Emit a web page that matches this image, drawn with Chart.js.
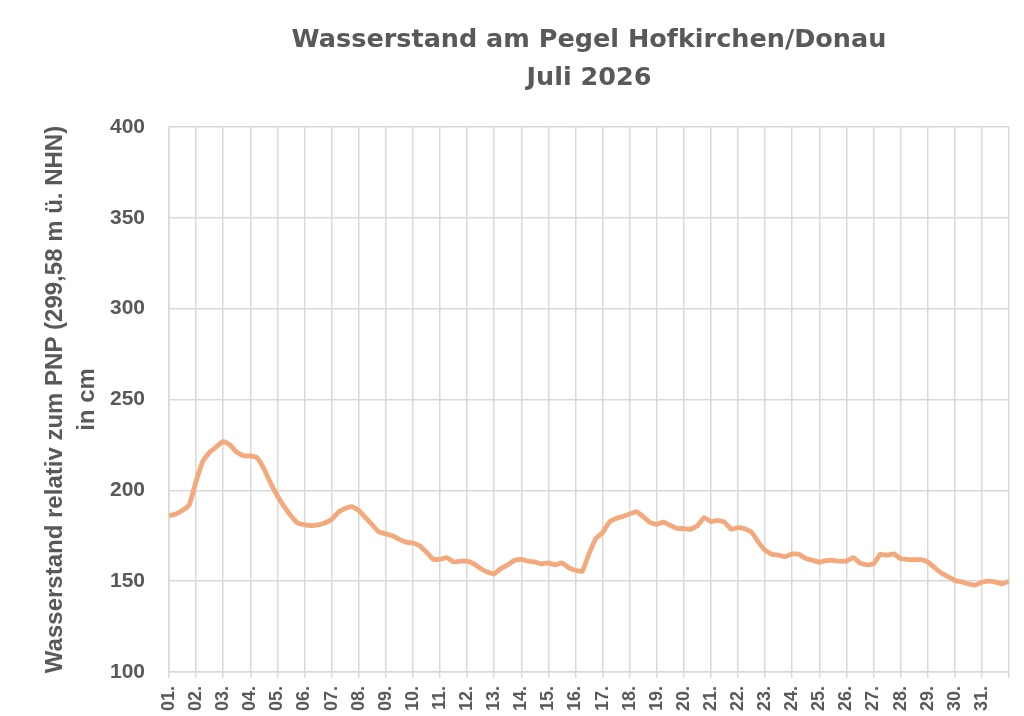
<!DOCTYPE html>
<html>
<head>
<meta charset="utf-8">
<script src="https://cdn.jsdelivr.net/npm/chart.js@4/dist/chart.umd.min.js"></script>
<style>
  html, body { margin: 0; padding: 0; background: #ffffff; }
  #wrap { width: 1024px; height: 716px; position: relative; }
</style>
</head>
<body>
<div id="wrap"><canvas id="chart"></canvas></div>
<script>
// Wasserstand Hofkirchen, Juli 2026 - one reading every 6 hours (00, 06, 12, 18 Uhr)
const titleLines = ['Wasserstand am Pegel Hofkirchen/Donau', 'Juli 2026'];
const yTitleLines = ['Wasserstand relativ zum PNP (299,58 m ü. NHN)', 'in cm'];
const firstDay = 1;
const lastDay = 32;
const readingsPerDay = 4;
const yTicks = [100, 150, 200, 250, 300, 350, 400];

const level = [
  186, 187, 189, 192,          // 01.
  205, 216, 221, 224,          // 02.
  227, 225, 221, 219,          // 03.
  219, 218, 212, 204,          // 04.
  197, 191, 186, 182,          // 05.
  181, 180.6, 181, 182,        // 06.
  184, 188, 190, 191,          // 07.
  189, 185, 181, 177,          // 08.
  176, 175, 173, 171.5,        // 09.
  171, 169.5, 166, 162,        // 10.
  162, 163, 160.6, 161,        // 11.
  161, 159.5, 157, 155,        // 12.
  154, 157, 159, 161.5,        // 13.
  162, 161, 160.6, 159.5,      // 14.
  160, 159, 160, 157.5,        // 15.
  156, 155.4, 165, 173.5,      // 16.
  176.7, 182.5, 184.5, 185.6,  // 17.
  187, 188.3, 185.5, 182.3,    // 18.
  181.3, 182.5, 180.7, 179,    // 19.
  179, 178.5, 180.5, 185,      // 20.
  182.8, 183.5, 182.5, 178.5,  // 21.
  179.5, 178.8, 177, 171.5,    // 22.
  167, 164.8, 164.3, 163.5,    // 23.
  165, 164.8, 162.5, 161.5,    // 24.
  160.5, 161.3, 161.5, 161,    // 25.
  161, 163, 160, 159,          // 26.
  159.5, 164.8, 164.3, 165,    // 27.
  162.4, 162, 161.8, 161.8,    // 28.
  160.6, 157.5, 154.5, 152.5,  // 29.
  150.4, 149.6, 148.5, 147.8,  // 30.
  149.4, 150, 149.5, 148.5,    // 31.
  150                          // 01.08. 00 Uhr
];

const points = level.map((v, i) => ({ x: firstDay + i / readingsPerDay, y: v }));

const grey = '#595959';
const gridGrey = '#D9D9D9';

new Chart(document.getElementById('chart'), {
  type: 'line',
  data: {
    datasets: [{
      data: points,
      borderColor: '#F3A97C',
      borderWidth: 4.8,
      pointRadius: 0,
      tension: 0.1,
      fill: false
    }]
  },
  options: {
    responsive: true,
    maintainAspectRatio: false,
    animation: false,
    layout: { padding: { left: 0, right: 15, top: 0, bottom: 0 } },
    plugins: {
      legend: { display: false },
      tooltip: { enabled: false },
      title: {
        display: true,
        text: titleLines,
        fullSize: false,
        color: grey,
        font: { family: 'DejaVu Sans', size: 25.5, weight: 'bold', lineHeight: '38px' },
        padding: { top: 21, bottom: 30 }
      }
    },
    scales: {
      x: {
        type: 'linear',
        min: firstDay,
        max: lastDay,
        grid: { color: gridGrey, lineWidth: 1.5, tickLength: 6 },
        border: { color: gridGrey, width: 1.5 },
        ticks: {
          stepSize: 1,
          autoSkip: false,
          minRotation: 90,
          maxRotation: 90,
          padding: 8,
          color: grey,
          font: { family: 'Liberation Sans', size: 18, weight: 'bold' },
          callback: v => v < lastDay ? String(v).padStart(2, '0') + '.' : ''
        },
        afterFit: s => { s.height = 44; s.paddingLeft = 0; s.paddingRight = 0; }
      },
      y: {
        min: 100,
        max: 400,
        afterBuildTicks: s => { s.ticks = yTicks.map(v => ({ value: v })); },
        grid: { color: gridGrey, lineWidth: 1.5, tickLength: 0 },
        border: { color: gridGrey, width: 1.5 },
        ticks: {
          padding: 24,
          color: grey,
          font: { family: 'Liberation Sans', size: 21, weight: 'bold' }
        },
        title: {
          display: true,
          text: yTitleLines,
          color: grey,
          font: { family: 'Liberation Sans', size: 24, weight: 'bold', lineHeight: '32px' },
          padding: { top: 39, bottom: 0 }
        },
        afterFit: s => { s.width = 169; }
      }
    }
  }
});
</script>
</body>
</html>
